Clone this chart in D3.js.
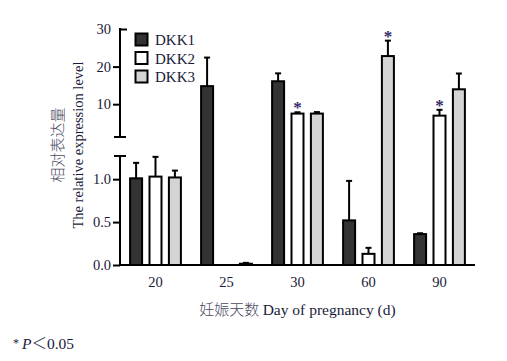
<!DOCTYPE html>
<html>
<head>
<meta charset="utf-8">
<script src="https://cdn.jsdelivr.net/npm/d3@7"></script>
<style>
  body { margin: 0; background: #fff; }
  svg { display: block; }
  text { font-family: "Liberation Serif", "Times New Roman", serif; fill: #1a1a38; }
  .cn { font-family: "Noto Sans CJK SC", sans-serif; fill: #4a4a62; font-weight: 300; }
</style>
</head>
<body>
<div id="chart"></div>
<script>
//chart data
var days = ["20", "25", "30", "60", "90"];
var seriesNames = ["DKK1", "DKK2", "DKK3"];
var dkk1 = [1.01, 14.8, 16.1, 0.52, 0.36];
var dkk1Err = [0.18, 7.6, 2.1, 0.46, 0.01];
var dkk2 = [1.03, 0, 7.5, 0.13, 6.95];
var dkk2Err = [0.23, 0, 0.35, 0.07, 1.55];
var dkk3 = [1.02, 0.015, 7.5, 22.8, 13.96];
var dkk3Err = [0.08, 0.01, 0.4, 4.1, 4.2];
var colors = ["#333333", "#ffffff", "#d4d4d4"];
//significant points (* P<0.05)
var starDays = ["30", "60", "90"];
var starSeries = ["DKK2", "DKK3", "DKK2"];
//axis ticks
var lowTicks = [0, 0.5, 1.0];
var highTicks = [10, 20, 30];
var breakValue = 1.27;

//svg size
var svgWidth = 507;
var svgHeight = 361;

var svg = d3.select("#chart").append("svg")
    .attr("width", svgWidth)
    .attr("height", svgHeight);

//broken y scale: lower part and upper part
var left = 120, right = 475, baseY = 265;
var yLow = d3.scaleLinear().domain([0, breakValue]).range([baseY, 156]);
var yHigh = d3.scaleLinear().domain([breakValue, 30]).range([137, 29]);
function y(v) {
    return v <= breakValue ? yLow(v) : yHigh(v);
}

var x = d3.scaleBand().domain(days).range([left, right]);
var xSub = d3.scalePoint().domain(seriesNames).range([-19.4, 19.4]);
var barW = 12;

//flat rows for the bars
var values = [dkk1, dkk2, dkk3];
var errs = [dkk1Err, dkk2Err, dkk3Err];
var rows = [];
days.forEach(function(d, i) {
    seriesNames.forEach(function(s, j) {
        rows.push({day: d, series: s, value: values[j][i], err: errs[j][i], color: colors[j]});
    });
});
rows.forEach(function(r) { r.cx = x(r.day) + x.bandwidth() / 2 + xSub(r.series); });

//bars
svg.append("g").selectAll("rect")
    .data(rows)
    .enter()
    .append("rect")
    .attr("x", d => d.cx - barW / 2)
    .attr("y", d => y(d.value))
    .attr("width", barW)
    .attr("height", d => baseY - y(d.value))
    .attr("fill", d => d.color)
    .attr("stroke", "#000")
    .attr("stroke-width", 2);

//error bars
var errGroup = svg.append("g").attr("stroke", "#000").attr("stroke-width", 2);
var withErr = rows.filter(d => d.err > 0);
errGroup.selectAll(".stem")
    .data(withErr)
    .enter()
    .append("line")
    .attr("x1", d => d.cx).attr("x2", d => d.cx)
    .attr("y1", d => y(d.value)).attr("y2", d => y(d.value + d.err));
errGroup.selectAll(".cap")
    .data(withErr)
    .enter()
    .append("line")
    .attr("x1", d => d.cx - 3).attr("x2", d => d.cx + 3)
    .attr("y1", d => y(d.value + d.err)).attr("y2", d => y(d.value + d.err));

//stars
var stars = starDays.map(function(d, i) {
    return rows.find(r => r.day === d && r.series === starSeries[i]);
});
svg.append("g").selectAll("text")
    .data(stars)
    .enter()
    .append("text")
    .attr("x", d => d.cx)
    .attr("y", d => y(d.value + d.err) + 1)
    .attr("text-anchor", "middle")
    .style("font-size", "17px")
    .style("font-weight", "bold")
    .style("fill", "#332c6e")
    .text("*");

//lower y axis
var lowAxis = svg.append("g")
    .attr("transform", `translate(${left},0)`)
    .call(d3.axisLeft(yLow).tickValues(lowTicks).tickFormat(d3.format(".1f")).tickSize(7).tickPadding(2));
//upper y axis
var highAxis = svg.append("g")
    .attr("transform", `translate(${left},0)`)
    .call(d3.axisLeft(yHigh).tickValues(highTicks).tickFormat(d3.format("d")).tickSize(7).tickPadding(2));
[lowAxis, highAxis].forEach(function(a) {
    a.select(".domain").remove();
    a.selectAll("line").attr("stroke", "#000").attr("stroke-width", 2);
    a.selectAll("text").style("font-size", "14.5px").style("fill", "#1a1a38").style("font-family", "Liberation Serif, serif");
});
//30 tick points inward
highAxis.selectAll(".tick").filter(d => d === 30).select("line").attr("x2", 7).attr("x1", -1);

//axis segments with end caps
var yLines = svg.append("g").attr("stroke", "#000").attr("stroke-width", 2);
yLines.append("line").attr("x1", left).attr("x2", left).attr("y1", yHigh(30) - 1).attr("y2", yHigh(breakValue));
yLines.append("line").attr("x1", left).attr("x2", left).attr("y1", yLow(breakValue)).attr("y2", baseY);
yLines.append("line").attr("x1", left - 6).attr("x2", left + 6).attr("y1", yHigh(breakValue)).attr("y2", yHigh(breakValue));
yLines.append("line").attr("x1", left - 6).attr("x2", left + 6).attr("y1", yLow(breakValue)).attr("y2", yLow(breakValue));

//x axis
var xAxis = svg.append("g")
    .attr("transform", `translate(0,${baseY})`)
    .call(d3.axisBottom(x).tickSize(0).tickSizeOuter(0).tickPadding(12));
xAxis.select(".domain").attr("stroke", "#000").attr("stroke-width", 2)
    .attr("d", `M${left - 1},0H${right}`);
xAxis.selectAll("text").style("font-size", "14.5px").style("fill", "#1a1a38").style("font-family", "Liberation Serif, serif");

//x title
var xTitle = svg.append("text")
    .attr("x", (left + right) / 2)
    .attr("y", 315)
    .attr("text-anchor", "middle")
    .style("font-size", "15.5px");
xTitle.append("tspan").attr("class", "cn").style("font-size", "15px").text("妊娠天数 ");
xTitle.append("tspan").text("Day of pregnancy (d)");

//y titles
svg.append("text")
    .attr("class", "cn")
    .attr("transform", "translate(63,145) rotate(-90)")
    .attr("text-anchor", "middle")
    .style("font-size", "15px")
    .text("相对表达量");
svg.append("text")
    .attr("transform", "translate(83,145) rotate(-90)")
    .attr("text-anchor", "middle")
    .style("font-size", "14.5px")
    .text("The relative expression level");

//legend
var legend = svg.append("g").selectAll("g")
    .data(seriesNames)
    .enter()
    .append("g")
    .attr("transform", (d, i) => `translate(135.5,${33.5 + i * 18.5})`);
legend.append("rect")
    .attr("width", 12).attr("height", 12)
    .attr("fill", (d, i) => colors[i])
    .attr("stroke", "#000").attr("stroke-width", 2);
legend.append("text")
    .attr("x", 19.5).attr("y", 11.5)
    .style("font-size", "15px")
    .text(d => d);

//footnote
var note = svg.append("text").attr("x", 13).attr("y", 349).style("font-size", "15.5px");
note.append("tspan").style("font-size", "12px").attr("dy", -2).text("* ");
note.append("tspan").attr("dy", 2).style("font-style", "italic").text("P");
note.append("tspan").style("font-family", "Noto Sans CJK SC").style("font-weight", 300).text("＜");
note.append("tspan").text("0.05");
</script>
</body>
</html>
